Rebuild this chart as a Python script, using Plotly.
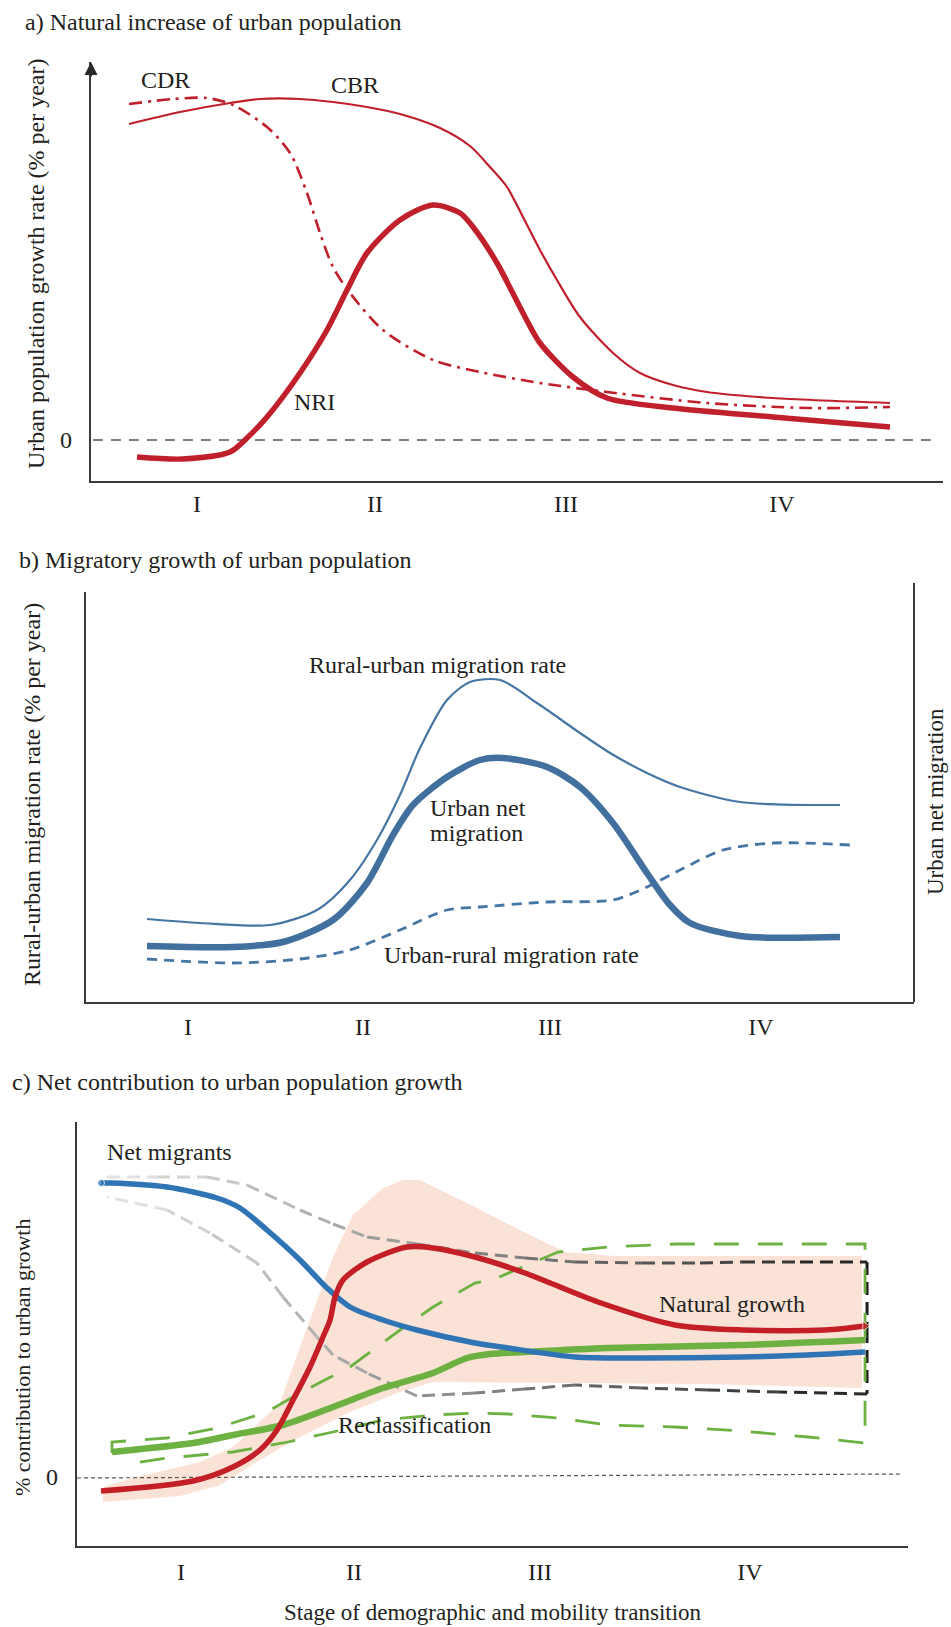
import plotly.graph_objects as go

W, H = 951, 1627
FONT = "Liberation Serif"
TXT = "#231f20"
RED_A = "#c0202b"
BLUE_B = "#4676a4"
BLUE_C = "#2f74b5"
RED_C = "#c41e26"
GREEN = "#6cb142"
BAND = "#fae3d6"

STAGES = ["I", "II", "III", "IV"]

# ---------------- panel a : natural increase (x = % of transition, y = % per year)
a_stage_pos = [12.44, 33.33, 55.75, 81.1]
cbr_x = [4.46, 10.45, 16.31, 19.84, 24.53, 28.40, 32.39, 36.27, 40.96, 44.48, 46.83,
         48.83, 50.70, 52.70, 54.69, 57.39, 61.27, 64.44, 68.31, 72.30, 80.05, 93.78]
cbr_y = [3.16, 3.28, 3.37, 3.41, 3.41, 3.38, 3.33, 3.26, 3.12, 2.94, 2.73,
         2.53, 2.23, 1.90, 1.60, 1.23, 0.87, 0.67, 0.55, 0.48, 0.42, 0.37]
cdr_x = [4.46, 9.62, 13.62, 16.67, 20.66, 23.36, 25.35, 26.88, 28.40, 30.40, 34.27, 40.14, 45.66,
         52.70, 60.56, 72.30, 84.04, 93.78]
cdr_y = [3.36, 3.41, 3.42, 3.35, 3.13, 2.87, 2.47, 2.07, 1.73, 1.47, 1.10, 0.80, 0.68,
         0.57, 0.48, 0.37, 0.32, 0.33]
nri_x = [5.40, 10.80, 16.31, 18.31, 20.66, 24.53, 27.70, 30.05, 32.39, 36.27, 40.14, 43.31, 44.84,
         47.65, 50.70, 52.70, 56.57, 60.56, 68.31, 80.05, 93.78]
nri_y = [-0.17, -0.19, -0.12, 0.02, 0.23, 0.67, 1.10, 1.50, 1.87, 2.20, 2.35, 2.27, 2.13,
         1.77, 1.27, 0.97, 0.63, 0.42, 0.32, 0.23, 0.13]

# ---------------- panel b : migratory growth
b_stage_pos = [12.32, 33.45, 56.04, 81.52]
ru_x = [7.37, 13.77, 22.22, 27.90, 31.88, 35.14, 37.92, 40.34, 43.60, 46.38, 50.0, 54.47, 59.66,
        63.29, 67.75, 71.74, 78.99, 91.06]
ru_y = [0.83, 0.79, 0.77, 0.92, 1.22, 1.62, 2.07, 2.54, 3.02, 3.20, 3.22, 2.99, 2.69,
        2.49, 2.29, 2.15, 2.00, 1.97]
net_x = [7.37, 17.75, 23.79, 29.83, 33.94, 37.08, 39.49, 43.60, 47.58, 50.36, 55.68, 59.66, 63.65,
         67.75, 70.53, 72.95, 78.99, 91.06]
net_y = [0.56, 0.55, 0.60, 0.82, 1.19, 1.67, 1.97, 2.25, 2.42, 2.44, 2.35, 2.15, 1.79,
         1.29, 0.97, 0.79, 0.66, 0.65]
ur_x = [7.37, 17.75, 25.85, 31.88, 37.92, 43.60, 47.58, 55.68, 63.65, 67.75, 71.74, 76.93, 82.97, 92.27]
ur_y = [0.43, 0.39, 0.43, 0.52, 0.72, 0.92, 0.95, 1.00, 1.02, 1.15, 1.32, 1.52, 1.59, 1.57]

# ---------------- panel c : net contribution (% contribution)
c_stage_pos = [12.52, 33.33, 55.72, 80.99]
mig_x = [2.89, 3.97, 10.83, 16.85, 19.61, 22.86, 26.83, 30.08, 32.85, 36.82, 40.91, 47.89, 51.87,
         59.93, 67.99, 80.02, 87.97, 94.83]
mig_y = [73.5, 73.5, 72.5, 69.75, 67.25, 61.75, 54.25, 47.25, 42.5, 39.25, 36.75, 33.5, 32.25,
         30.0, 29.75, 30.0, 30.5, 31.25]
nat_x = [2.89, 13.96, 18.77, 22.02, 24.07, 25.99, 28.04, 29.60, 30.45, 31.05, 32.01, 34.90, 39.71,
         42.84, 47.89, 53.91, 62.70, 71.96, 80.02, 90.01, 94.83]
nat_y = [-3.5, -1.0, 2.5, 6.75, 11.75, 19.25, 27.5, 35.0, 39.25, 45.0, 49.25, 53.75, 57.5,
         57.25, 55.0, 51.0, 43.75, 38.0, 36.75, 36.75, 37.75]
rec_x = [4.21, 13.96, 18.77, 24.79, 30.81, 36.82, 42.84, 46.93, 49.70, 53.91, 63.90, 80.02, 94.83]
rec_y = [6.25, 8.5, 10.5, 13.0, 17.5, 22.25, 26.0, 29.75, 30.75, 31.25, 32.25, 33.0, 34.25]
rec_env_x = [4.21, 4.21, 10.83, 16.85, 22.86, 26.83, 32.85, 38.87, 42.84, 47.89, 49.94, 57.88, 63.90,
             71.96, 94.83, 94.83, 87.97, 80.02, 71.96, 63.90, 57.88, 51.87, 47.89, 42.84, 36.82,
             30.81, 24.79, 18.77, 10.83, 5.42]
rec_env_y = [6.0, 8.75, 9.75, 12.25, 16.25, 21.0, 27.5, 36.75, 42.5, 48.5, 49.25, 56.25, 57.5,
             58.25, 58.25, 8.5, 10.0, 11.5, 12.5, 13.0, 14.75, 15.75, 16.0, 15.5, 14.25,
             11.25, 8.5, 6.25, 4.75, 3.0]
mig_env_x = [3.61, 9.63, 15.64, 20.46, 26.83, 30.81, 34.90, 40.91, 47.89, 53.91, 59.93, 67.99, 74.97,
             80.02, 87.00, 95.07, 95.07, 95.07, 84.60, 75.93, 67.99, 59.93, 53.91, 47.89, 40.91,
             34.90, 30.81, 28.88, 24.79, 21.66, 16.00, 10.83, 3.61]
mig_env_y = [75.0, 75.0, 75.0, 73.0, 66.75, 63.25, 60.0, 58.25, 56.0, 54.75, 53.75, 53.5, 53.5,
             53.75, 53.75, 53.75, 36.75, 20.75, 21.25, 21.75, 22.25, 23.0, 22.0, 21.0, 20.25,
             26.0, 30.5, 35.0, 45.0, 53.5, 61.0, 66.75, 70.0]
band_x = [3.13, 6.74, 14.80, 18.77, 24.43, 26.83, 30.81, 33.21, 36.82, 39.23, 41.28, 47.89, 53.31,
          58.72, 64.74, 94.46, 94.46, 74.97, 59.93, 47.89, 42.84, 38.87, 32.85, 26.83, 22.02,
          17.21, 12.39, 3.13]
band_y = [-2.5, -0.25, 3.75, 7.5, 18.5, 32.5, 55.0, 65.5, 72.25, 74.25, 74.25, 67.5, 61.75,
          56.25, 55.25, 55.25, 22.25, 23.25, 23.5, 23.75, 23.75, 21.25, 16.25, 10.0, 4.25,
          -2.0, -4.75, -6.25]

fig = go.Figure()

def ln(x, y, color, width, dash="solid", xa="x", ya="y", shape="spline", **kw):
    fig.add_trace(go.Scatter(x=x, y=y, mode="lines", xaxis=xa, yaxis=ya,
                             line=dict(color=color, width=width, dash=dash, shape=shape,
                                       smoothing=0.8 if shape == "spline" else None),
                             hoverinfo="skip", **kw))

# ---- panel a
ln([0.23, 99.3], [0, 0], "#555555", 1.3, dash="10px,8px", shape="linear")
ln(cbr_x, cbr_y, RED_A, 2.2)
ln(cdr_x, cdr_y, RED_A, 2.6, dash="13px,6px,3px,6px")
ln(nri_x, nri_y, RED_A, 5.5)

# ---- panel b
ln(ru_x, ru_y, BLUE_B, 2.2, xa="x2", ya="y2")
ln(ur_x, ur_y, BLUE_B, 2.8, dash="10px,7px", xa="x2", ya="y2")
ln(net_x, net_y, "#41709e", 6.5, xa="x2", ya="y2")

# ---- panel c
fig.add_trace(go.Scatter(x=band_x, y=band_y, mode="lines", fill="toself", fillcolor=BAND,
                         line=dict(width=0, color=BAND), xaxis="x3", yaxis="y3", hoverinfo="skip"))
ln([0, 99.4], [-0.25, 0.75], "#555555", 1.2, dash="4px,3px", xa="x3", ya="y3", shape="linear")

def gray_of(xv):
    g = int(max(30, min(238, 240 - 2.2 * xv)))
    return f"rgb({g},{g},{g})"

for i in range(len(mig_env_x) - 1):
    xm = (mig_env_x[i] + mig_env_x[i + 1]) / 2
    ln(mig_env_x[i:i + 2], mig_env_y[i:i + 2], gray_of(xm), 3.0, dash="13px,7px",
       xa="x3", ya="y3", shape="linear")

ln(rec_env_x, rec_env_y, GREEN, 2.8, dash="25px,19px", xa="x3", ya="y3", shape="linear")
ln(rec_x, rec_y, GREEN, 6.5, xa="x3", ya="y3")
fig.add_trace(go.Scatter(x=mig_x, y=mig_y, mode="lines+markers", xaxis="x3", yaxis="y3",
                         line=dict(color=BLUE_C, width=5.5, shape="spline", smoothing=0.8),
                         marker=dict(color=BLUE_C, size=[7] + [0] * (len(mig_x) - 1)),
                         hoverinfo="skip"))
fig.add_trace(go.Scatter(x=nat_x, y=nat_y, mode="lines+markers", xaxis="x3", yaxis="y3",
                         line=dict(color=RED_C, width=5.5, shape="spline", smoothing=0.8),
                         marker=dict(color=RED_C, symbol="triangle-right",
                                     size=[0] * (len(nat_x) - 1) + [9]),
                         hoverinfo="skip"))

# ---------------- axes
def xax(dom, pos, standoff):
    return dict(domain=dom, range=[0, 100], showgrid=False, zeroline=False, showline=True,
                linecolor="#3a3a3a", linewidth=2, ticks="", tickmode="array", tickvals=pos,
                ticktext=STAGES, tickfont=dict(family=FONT, size=24, color=TXT),
                ticklabelstandoff=standoff, fixedrange=True)

def yax(dom, rng, anchor):
    return dict(domain=dom, range=rng, showgrid=False, zeroline=False, showline=True,
                linecolor="#3a3a3a", linewidth=2, showticklabels=False, ticks="",
                anchor=anchor, fixedrange=True)

fig.update_layout(
    width=W, height=H, margin=dict(l=0, r=0, t=0, b=0),
    paper_bgcolor="white", plot_bgcolor="white", showlegend=False,
    font=dict(family=FONT, color=TXT),
    xaxis=dict(**xax([91 / W, 943 / W], a_stage_pos, 0), anchor="y"),
    yaxis=yax([1 - 481 / H, 1 - 62 / H], [-0.41, 3.78], "x"),
    xaxis2=dict(**xax([86 / W, 914 / W], b_stage_pos, 2), anchor="y2"),
    yaxis2=yax([1 - 1002 / H, 1 - 592 / H], [0, 4.10], "x2"),
    xaxis3=dict(**xax([77 / W, 908 / W], c_stage_pos, 3), anchor="y3"),
    yaxis3=yax([1 - 1546 / H, 1 - 1122 / H], [-17.25, 88.75], "x3"),
)

# right frame line of panel b
fig.add_shape(type="line", xref="paper", yref="paper", x0=914 / W, x1=914 / W,
              y0=1 - 1002 / H, y1=1 - 583 / H, line=dict(color="#3a3a3a", width=2))

ann = []

def txt(text, x, y, size=24, xref="paper", yref="paper", xanchor="center", angle=0):
    ann.append(dict(text=text, x=x, y=y, xref=xref, yref=yref, xanchor=xanchor,
                    yanchor="middle", showarrow=False, textangle=angle,
                    font=dict(family=FONT, size=size, color=TXT)))

# arrow on panel a y axis
ann.append(dict(x=0, y=3.78, xref="x", yref="y", ax=0, ay=16, axref="pixel", ayref="pixel",
                showarrow=True, arrowhead=2, arrowsize=1.3, arrowwidth=2, arrowcolor="#2a2a2a",
                text=""))

# panel titles
txt("a) Natural increase of urban population", 23 / W, 1 - 22 / H, 24, xanchor="left")
txt("b) Migratory growth of urban population", 17 / W, 1 - 560 / H, 24, xanchor="left")
txt("c) Net contribution to urban population growth", 10 / W, 1 - 1082 / H, 24, xanchor="left")

# panel a texts
txt("Urban population growth rate (% per year)", 36 / W, 1 - 264 / H, 24, angle=-90)
txt("0", 66 / W, 0, 24, yref="y")
txt("CDR", 8.69, 3.60, 24, xref="x", yref="y")
txt("CBR", 30.99, 3.55, 24, xref="x", yref="y")
txt("NRI", 26.29, 0.38, 24, xref="x", yref="y")

# panel b texts
txt("Rural-urban migration rate (% per year)", 32 / W, 1 - 795 / H, 24, angle=-90)
txt("Urban net migration", 936 / W, 1 - 802 / H, 23, angle=-90)
txt("Rural-urban migration rate", 42.51, 3.37, 24, xref="x2", yref="y2")
txt("Urban net", 41.30, 1.94, 24, xref="x2", yref="y2", xanchor="left")
txt("migration", 41.30, 1.69, 24, xref="x2", yref="y2", xanchor="left")
txt("Urban-rural migration rate", 51.33, 0.47, 24, xref="x2", yref="y2")

# panel c texts
txt("% contribution to urban growth", 22 / W, 1 - 1358 / H, 22, angle=-90)
txt("0", 52 / W, 0, 24, yref="y3")
txt("Net migrants", 3.37, 81.25, 24, xref="x3", yref="y3", xanchor="left")
txt("Natural growth", 78.82, 43.25, 24, xref="x3", yref="y3")
txt("Reclassification", 40.67, 13.0, 24, xref="x3", yref="y3")
txt("Stage of demographic and mobility transition", 493 / W, 1 - 1612 / H, 23)

fig.update_layout(annotations=ann)

fig.write_html("out.html", config={"displayModeBar": False})
